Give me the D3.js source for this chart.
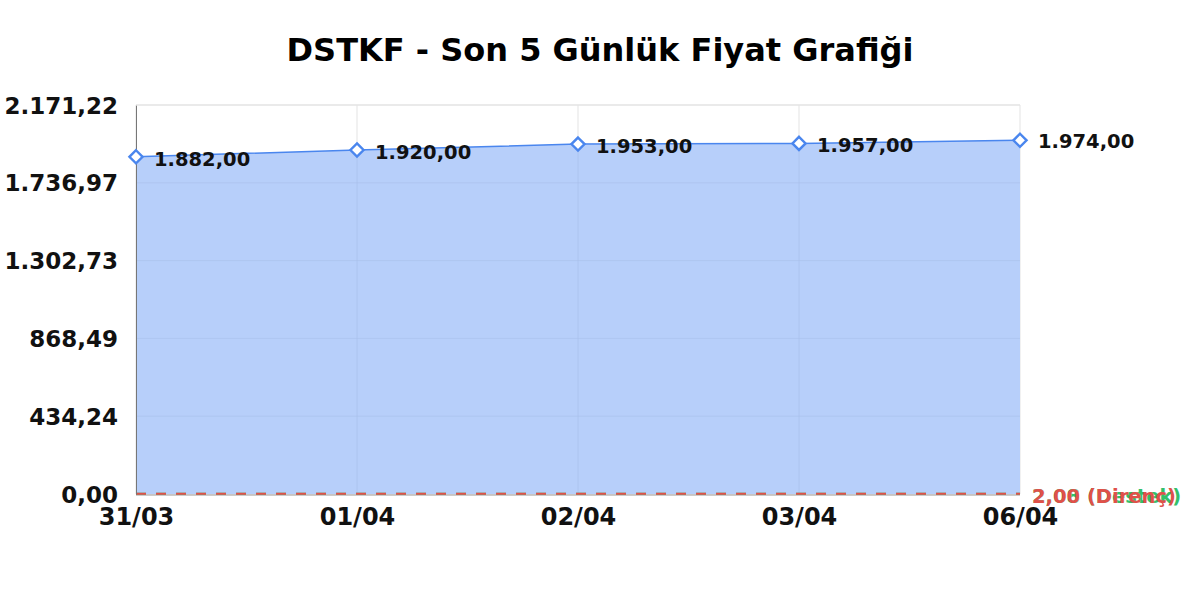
<!DOCTYPE html>
<meta charset="utf-8">
<script src="https://d3js.org/d3.v7.min.js"></script>
<style>
  body { margin: 0; background: #fff; }
  text { font-family: "DejaVu Sans", sans-serif; font-weight: bold; }
</style>
<body>
<div id="visual"></div>
<script>
  // chart data
  var dates = ["31/03", "01/04", "02/04", "03/04", "06/04"];
  var prices = [1882, 1920, 1953, 1957, 1974];
  var yTicks = [0, 434.24, 868.49, 1302.73, 1736.97, 2171.22];
  var yTickLabels = ["0,00", "434,24", "868,49", "1.302,73", "1.736,97", "2.171,22"];
  var supportValue = 2.08, resistanceValue = 2.00;

  var width = 1200, height = 600;
  var margin = {top: 105, right: 180, bottom: 106, left: 136};

  var svg = d3.select("#visual").append("svg")
    .attr("width", width).attr("height", height);

  var tr = d3.formatLocale({decimal: ",", thousands: ".", grouping: [3], currency: ["", "₺"]});
  var fmt = tr.format(",.2f");

  // title
  svg.append("text")
    .attr("x", 600).attr("y", 61)
    .attr("text-anchor", "middle")
    .style("font-size", "32px")
    .text("DSTKF - Son 5 Günlük Fiyat Grafiği");

  var x = d3.scalePoint()
    .domain(dates)
    .range([margin.left, width - margin.right]);

  var y = d3.scaleLinear()
    .domain([0, d3.max(yTicks)])
    .range([height - margin.bottom, margin.top]);

  // grid
  svg.append("g").selectAll("line")
    .data(yTicks).enter().append("line")
      .attr("x1", margin.left).attr("x2", width - margin.right)
      .attr("y1", function(d) { return y(d); })
      .attr("y2", function(d) { return y(d); })
      .attr("stroke", "#e3e3e3");
  svg.append("g").selectAll("line")
    .data(dates).enter().append("line")
      .attr("x1", function(d) { return x(d); })
      .attr("x2", function(d) { return x(d); })
      .attr("y1", margin.top).attr("y2", height - margin.bottom)
      .attr("stroke", "#e3e3e3");

  // area + line
  var pts = dates.map(function(d, i) { return {date: d, value: prices[i]}; });
  svg.append("path")
    .datum(pts)
    .attr("fill", "#b7cffa")
    .attr("d", d3.area()
      .x(function(d) { return x(d.date); })
      .y0(y(0))
      .y1(function(d) { return y(d.value); }));

  // grid seen through the area
  svg.append("g").selectAll("line")
    .data(yTicks.slice(1, 5)).enter().append("line")
      .attr("x1", margin.left).attr("x2", width - margin.right)
      .attr("y1", function(d) { return y(d); })
      .attr("y2", function(d) { return y(d); })
      .attr("stroke", "#a9c0ea").attr("stroke-opacity", 0.6);
  svg.append("g").selectAll("line")
    .data(dates.slice(1, 4)).enter().append("line")
      .attr("x1", function(d) { return x(d); })
      .attr("x2", function(d) { return x(d); })
      .attr("y1", function(d, i) { return y(prices[i + 1]); })
      .attr("y2", height - margin.bottom)
      .attr("stroke", "#a9c0ea").attr("stroke-opacity", 0.6);

  svg.append("path")
    .datum(pts)
    .attr("fill", "none")
    .attr("stroke", "#4a86ee")
    .attr("stroke-width", 1.5)
    .attr("d", d3.line()
      .x(function(d) { return x(d.date); })
      .y(function(d) { return y(d.value); }));

  // bottom axis line
  svg.append("line")
    .attr("x1", margin.left).attr("x2", width - margin.right)
    .attr("y1", y(0) + 1).attr("y2", y(0) + 1)
    .attr("stroke", "#999");

  // support / resistance lines
  svg.append("line")
    .attr("x1", margin.left).attr("x2", width - margin.right)
    .attr("y1", y(supportValue)).attr("y2", y(supportValue))
    .attr("stroke", "#33c06a").attr("stroke-width", 2)
    .attr("stroke-dasharray", "10,10");
  svg.append("line")
    .attr("x1", margin.left).attr("x2", width - margin.right)
    .attr("y1", y(resistanceValue)).attr("y2", y(resistanceValue))
    .attr("stroke", "#e0504a").attr("stroke-width", 2)
    .attr("stroke-dasharray", "10,10");

  svg.append("text")
    .attr("x", width - margin.right + 12).attr("y", y(supportValue) + 9)
    .attr("fill", "#33c06a").style("font-size", "19.5px")
    .text(fmt(supportValue) + " (Destek)");
  svg.append("text")
    .attr("x", width - margin.right + 12).attr("y", y(resistanceValue) + 9)
    .attr("fill", "#e0504a").style("font-size", "19.5px")
    .text(fmt(resistanceValue) + " (Direnç)");

  // axes
  var yAxis = svg.append("g")
    .attr("transform", "translate(" + margin.left + ",0)")
    .call(d3.axisLeft(y).tickValues(yTicks)
      .tickFormat(function(d, i) { return yTickLabels[i]; })
      .tickSize(0).tickPadding(18));
  yAxis.select(".domain").attr("stroke", "#777");
  yAxis.selectAll("text").attr("fill", "#111").style("font-size", "23px")
    .attr("dy", "0.35em");

  var xAxis = svg.append("g")
    .attr("transform", "translate(0," + (height - margin.bottom) + ")")
    .call(d3.axisBottom(x).tickSize(0).tickPadding(14));
  xAxis.select(".domain").remove();
  xAxis.selectAll("text").attr("fill", "#111").style("font-size", "24px");

  // top border
  svg.append("line")
    .attr("x1", margin.left).attr("x2", width - margin.right)
    .attr("y1", margin.top).attr("y2", margin.top)
    .attr("stroke", "#e3e3e3");

  // markers
  svg.append("g").selectAll("path")
    .data(pts).enter().append("path")
      .attr("transform", function(d) { return "translate(" + x(d.date) + "," + y(d.value) + ")"; })
      .attr("d", d3.symbol().type(d3.symbolDiamond2).size(110))
      .attr("fill", "#fff")
      .attr("stroke", "#4a86ee")
      .attr("stroke-width", 2.4);

  // value labels
  svg.append("g").selectAll("text")
    .data(pts).enter().append("text")
      .attr("x", function(d) { return x(d.date) + 18; })
      .attr("y", function(d, i) { return y(d.value) + (i === 4 ? 8 : 9); })
      .attr("fill", "#111")
      .style("font-size", "19.5px")
      .text(function(d) { return fmt(d.value); });
</script>
</body>
